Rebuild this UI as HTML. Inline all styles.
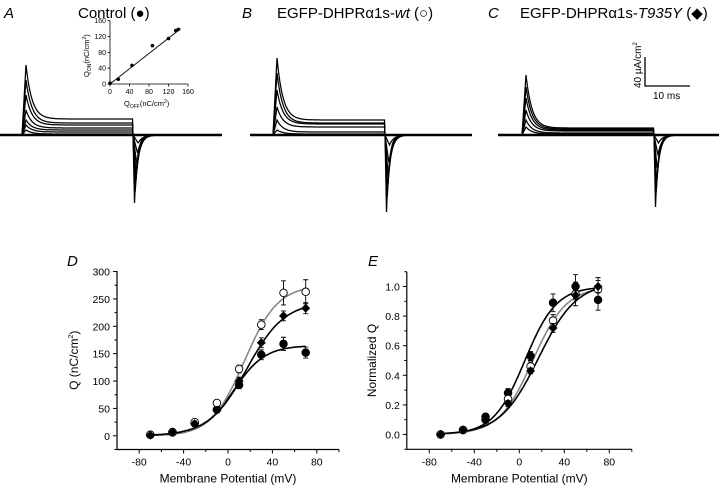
<!DOCTYPE html>
<html><head><meta charset="utf-8">
<style>
body{margin:0;background:#fff;}
svg{display:block;font-family:"Liberation Sans",sans-serif;}
</style></head>
<body>
<svg id="fig" width="720" height="486" viewBox="0 0 720 486">
<g font-size="15">
<text x="4" y="18" font-style="italic">A</text>
<text x="78" y="18">Control  (●)</text>
<text x="242" y="18" font-style="italic">B</text>
<text x="277" y="18">EGFP-DHPRα1s-<tspan font-style="italic">wt</tspan>  (○)</text>
<text x="488" y="18" font-style="italic">C</text>
<text x="520" y="18">EGFP-DHPRα1s-<tspan font-style="italic">T935Y</tspan>  (◆)</text>
<text x="67" y="266" font-style="italic">D</text>
<text x="368" y="266" font-style="italic">E</text>
</g>
<g id="traces"></g>
<g id="scalebar">
<path d="M645 57 V86 H690" stroke="#000" stroke-width="1.3" fill="none"/>
<text transform="translate(641,88) rotate(-90)" font-size="10">40 µA/cm<tspan font-size="6" dy="-4">2</tspan></text>
<text x="653" y="99" font-size="10">10 ms</text>
</g>
<g id="inset"></g>
<g id="plotD"></g>
<g id="plotE"></g>
</svg>
<script>
// ---- Panel D data ----
const voltages = [-70,-50,-30,-10,10,30,50,70];
const qControl = [2,6,23,48,93,148,168,152];
const qControlErr = [3,3,5,5,7,9,12,10];
const qWT = [2,7,25,60,122,203,261,263];
const qWTErr = [3,3,5,5,7,9,22,22];
const qT935Y = [1,7,22,47,100,170,219,233];
const qT935YErr = [3,3,5,5,7,9,9,10];
// Boltzmann fit params [Qmax, Vhalf, k]
const fitControl = [165,5,14];
const fitWT = [275,15,15];
const fitT935Y = [245,17,17];
const dXTicks = [-80,-40,0,40,80];
const dYTicks = [0,50,100,150,200,250,300];
// ---- Panel E data ----
const nControl = [0,0.03,0.12,0.28,0.53,0.89,1.0,0.91];
const nControlErr = [0.01,0.01,0.02,0.03,0.03,0.06,0.08,0.07];
const nWT = [0,0.03,0.10,0.24,0.46,0.77,0.95,0.98];
const nWTErr = [0.01,0.01,0.02,0.02,0.03,0.04,0.08,0.08];
const nT935Y = [0,0.03,0.10,0.21,0.43,0.72,0.94,1.0];
const nT935YErr = [0.01,0.01,0.02,0.02,0.02,0.03,0.03,0.04];
const nfitControl = [1.0,5,14];
const nfitWT = [1.0,12,15];
const nfitT935Y = [1.03,17,17];
const eXTicks = [-80,-40,0,40,80];
const eYTicks = [0,0.2,0.4,0.6,0.8,1.0];
// ---- Inset data ----
const qOff = [0,17,45,87,120,135,140];
const qOn = [2,12,47,97,115,135,138];
const insetTicks = [0,40,80,120,160];
const insetFit = [0,145, 0,140];
// ---- Trace amplitudes (px) ----
const peaksA=[70,55,40,25,15,10,5], platA=[16,12,10,7,5,3,1], negA=[68,60,50,40,30,18,8];
const peaksB=[77,62,45,28,15,5], platB=[15,12,11,8,3,1], negB=[77,66,54,42,28,10];
const peaksC=[60,48,37,25,15,8], platC=[7,6,5,4,2,1], negC=[72,60,48,35,20,8];

const NS="http://www.w3.org/2000/svg";
function mk(tag,attrs,parent){const e=document.createElementNS(NS,tag);for(const k in attrs)e.setAttribute(k,attrs[k]);parent.appendChild(e);return e;}

const tg=document.getElementById('traces');
function drawTraces(x0,on,off,x1,base,peaks,plats,negs,name){
  for(let i=0;i<peaks.length;i++){
    let d='';
    for(let x=x0;x<=x1;x+=0.5){
      let y=0;
      if(x>=on && x<off){
        const t=x-on;
        if(t<4) y=peaks[i]*t/4;
        else y=plats[i]+(peaks[i]-plats[i])*Math.exp(-(t-4)/6);
      } else if(x>=off){
        const t=x-off, dl=1.5+i*0.6;
        if(t<dl) y=-negs[i]*t/dl;
        else y=-negs[i]*Math.exp(-(t-dl)/(2.8+i*0.3));
      }
      d+=(d?'L':'M')+x.toFixed(1)+' '+(base-y).toFixed(1);
    }
    const p=mk('path',{d:d,stroke:'#000','stroke-width':'1.25',fill:'none'},tg);
    
    
  }
  const b=mk('path',{d:'M'+x0+' '+base+'H'+x1,stroke:'#000','stroke-width':'2.6',fill:'none'},tg);
  
  
}
drawTraces(0,22,133,222,135,peaksA,platA,negA,'control');
drawTraces(250,273,385,472,135,peaksB,platB,negB,'wt');
drawTraces(498,522,654,719,135,peaksC,platC,negC,'t935y');

(function(){
  const g=document.getElementById('inset');
  const sx=v=>110+v*(78/160), sy=v=>84-v*(63.3/160);
  mk('path',{d:'M110 20.7V84H188',stroke:'#000','stroke-width':'0.8',fill:'none'},g);
  insetTicks.forEach(t=>{
    mk('path',{d:`M${sx(t)} 84v2.5M110 ${sy(t)}h-2.5`,stroke:'#000','stroke-width':'0.8'},g);
    const a=mk('text',{x:sx(t),y:94,'font-size':'7','text-anchor':'middle'},g);a.textContent=t;
    
    
    const b=mk('text',{x:106,y:sy(t)+2.5,'font-size':'7','text-anchor':'end'},g);b.textContent=t;
    
    
  });
  mk('line',{x1:sx(insetFit[0]),x2:sx(insetFit[1]),y1:sy(insetFit[2]),y2:sy(insetFit[3]),stroke:'#000','stroke-width':'0.9'},g);
  qOff.forEach((v,i)=>{const c=mk('circle',{cx:sx(v),cy:sy(qOn[i]),r:1.8,fill:'#000'},g);
    
    });
  const xl=mk('text',{x:124,y:106,'font-size':'7.5'},g);
  xl.innerHTML='Q<tspan font-size="5" dy="2">OFF</tspan><tspan dy="-2">(nC/cm</tspan><tspan font-size="5" dy="-3">2</tspan><tspan dy="3">)</tspan>';
  
  
  const yl=mk('text',{transform:'translate(89,77) rotate(-90)','font-size':'7.5'},g);
  yl.innerHTML='Q<tspan font-size="5" dy="2">ON</tspan><tspan dy="-2">(nC/cm</tspan><tspan font-size="5" dy="-3">2</tspan><tspan dy="3">)</tspan>';
  
  
})();

function boltz(p,v){return p[0]/(1+Math.exp(-(v-p[1])/p[2]));}
function drawPlot(g,o){
  const sx=v=>o.x0+(v-o.xmin)*(o.x1-o.x0)/(o.xmax-o.xmin);
  const sy=v=>o.yb-(v-o.ymin)*(o.yb-o.yt)/(o.ymax-o.ymin);
  mk('path',{d:`M${o.x0} ${o.yt}V${o.yb}H${o.x1}`,stroke:'#000','stroke-width':'1.2',fill:'none'},g);
  for(let v=o.xmin+o.xminor;v<o.xmax+0.001;v+=o.xminor){
    const maj=o.xticks.some(t=>Math.abs(t-v)<1e-6);
    mk('line',{x1:sx(v),x2:sx(v),y1:o.yb,y2:o.yb+(maj?4:2.5),stroke:'#000','stroke-width':'1'},g);
  }
  for(let v=o.ymin;v<=o.ymax+1e-6;v+=o.yminor){
    const maj=o.yticks.some(t=>Math.abs(t-v)<1e-6);
    mk('line',{x1:o.x0,x2:o.x0-(maj?4:2.5),y1:sy(v),y2:sy(v),stroke:'#000','stroke-width':'1'},g);
  }
  o.xticks.forEach(t=>{const e=mk('text',{x:sx(t),y:o.yb+16,'font-size':'10.5','text-anchor':'middle'},g);e.textContent=t;
    
    });
  o.yticks.forEach(t=>{const e=mk('text',{x:o.x0-7,y:sy(t)+4,'font-size':'10.5','text-anchor':'end'},g);e.textContent=o.yfmt(t);
    
    });
  const xt=mk('text',{x:(sx(-100)+sx(100))/2,y:o.yb+33,'font-size':'12','text-anchor':'middle'},g);xt.textContent='Membrane Potential (mV)';
  
  
  const yt=mk('text',{transform:`translate(${o.ytx},${(o.yt+o.yb)/2}) rotate(-90)`,'font-size':'12','text-anchor':'middle'},g);yt.innerHTML=o.ytitle;
  
  
  o.series.forEach(s=>{
    let d='';for(let v=-70;v<=70.01;v+=1){d+=(d?'L':'M')+sx(v).toFixed(1)+' '+sy(boltz(s.fit,v)).toFixed(1);}
    const f=mk('path',{d:d,stroke:s.lc,'stroke-width':'1.6',fill:'none'},g);
    
    
  });
  o.series.forEach(s=>{
    voltages.forEach((v,i)=>{
      const x=sx(v),y=sy(s.vals[i]),e1=sy(s.vals[i]+s.err[i]),e2=sy(s.vals[i]-s.err[i]);
      mk('path',{d:`M${x} ${e1}V${e2}M${x-2.5} ${e1}h5M${x-2.5} ${e2}h5`,stroke:'#000','stroke-width':'0.9'},g);
      let m;
      if(s.shape==='diamond') m=mk('path',{d:`M${x} ${y-4.5}L${x+4.5} ${y}L${x} ${y+4.5}L${x-4.5} ${y}Z`,fill:'#000'},g);
      else m=mk('circle',{cx:x,cy:y,r:3.8,fill:s.shape==='open'?'#fff':'#000',stroke:'#000','stroke-width':'0.9'},g);
      
      
    });
  });
}
drawPlot(document.getElementById('plotD'),{x0:117,x1:339,xmin:-100,xmax:100,yb:449.5,yt:271,ymin:-25,ymax:301,
  xticks:dXTicks,yticks:dYTicks,xminor:20,yminor:25,yfmt:t=>t,ytx:78,
  ytitle:'Q (nC/cm<tspan font-size="7" dy="-5">2</tspan><tspan dy="5">)</tspan>',
  series:[{name:'control',vals:qControl,err:qControlErr,fit:fitControl,shape:'filled',lc:'#000'},
          {name:'wt',vals:qWT,err:qWTErr,fit:fitWT,shape:'open',lc:'#888'},
          {name:'t935y',vals:qT935Y,err:qT935YErr,fit:fitT935Y,shape:'diamond',lc:'#000'}]});
drawPlot(document.getElementById('plotE'),{x0:406.8,x1:631.8,xmin:-100,xmax:100,yb:449.3,yt:271.7,ymin:-0.1,ymax:1.1,
  xticks:eXTicks,yticks:eYTicks,xminor:20,yminor:0.1,yfmt:t=>t.toFixed(1),ytx:376,
  ytitle:'Normalized Q',
  series:[{name:'control-norm',vals:nControl,err:nControlErr,fit:nfitControl,shape:'filled',lc:'#000'},
          {name:'wt-norm',vals:nWT,err:nWTErr,fit:nfitWT,shape:'open',lc:'#888'},
          {name:'t935y-norm',vals:nT935Y,err:nT935YErr,fit:nfitT935Y,shape:'diamond',lc:'#000'}]});
</script>
</body></html>
